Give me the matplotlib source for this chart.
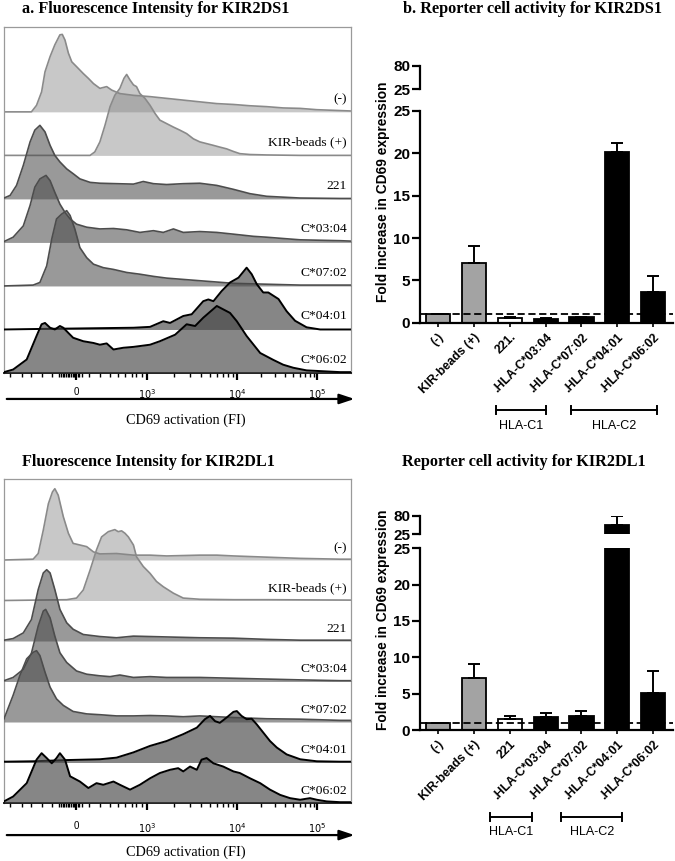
import numpy as np
import matplotlib
matplotlib.use("Agg")
import matplotlib.pyplot as plt
from matplotlib import transforms

plt.rcParams['font.family'] = ['Liberation Sans', 'DejaVu Sans']
SERIF = ['Liberation Serif', 'DejaVu Serif']

# ---- histogram data: x = display channel (0-1024), h = height in row units ----
row_labels = ["(-)", "KIR-beads (+)", "221", "C*03:04", "C*07:02", "C*04:01", "C*06:02"]

# KIR2DS1
ds1_neg_x = [0, 81, 96, 111, 121, 136, 150, 165, 172, 180, 190, 200, 214, 234, 249, 264, 283, 303, 318, 342,
             382, 431, 480, 529, 578, 628, 677, 726, 775, 824, 874, 923, 992, 1024]
ds1_neg_h = [0, 0, 0.15, 0.46, 0.92, 1.27, 1.54, 1.77, 1.78, 1.65, 1.35, 1.15, 1.04, 0.88, 0.77, 0.65, 0.54, 0.58, 0.5, 0.42,
             0.38, 0.35, 0.31, 0.27, 0.23, 0.19, 0.17, 0.14, 0.12, 0.09, 0.08, 0.05, 0.03, 0.02]
ds1_kir_x = [0, 254, 268, 283, 298, 313, 327, 342, 354, 362, 372, 382, 391, 401, 416, 431, 446, 460, 480, 500,
             519, 539, 559, 578, 598, 618, 637, 657, 677, 696, 726, 775, 874, 1024]
ds1_kir_h = [0, 0, 0.08, 0.31, 0.69, 1.12, 1.38, 1.54, 1.77, 1.86, 1.73, 1.62, 1.58, 1.42, 1.31, 1.15, 0.96, 0.81, 0.73, 0.65,
             0.58, 0.5, 0.38, 0.31, 0.27, 0.23, 0.19, 0.15, 0.09, 0.04, 0.02, 0.01, 0, 0]
ds1_221_x = [0, 18, 37, 57, 77, 91, 106, 121, 136, 150, 165, 185, 204, 224, 254, 283, 332, 382, 411, 441,
             480, 529, 578, 628, 677, 726, 775, 824, 874, 992, 1024]
ds1_221_h = [0.02, 0.08, 0.31, 0.77, 1.31, 1.58, 1.69, 1.54, 1.23, 1.0, 0.85, 0.69, 0.58, 0.46, 0.38, 0.36, 0.35, 0.34, 0.4, 0.35,
             0.33, 0.35, 0.36, 0.31, 0.22, 0.12, 0.06, 0.04, 0.02, 0.01, 0.01]
ds1_c0304_x = [0, 27, 57, 77, 91, 106, 124, 136, 150, 165, 180, 195, 214, 244, 283, 323, 362, 401, 441, 470,
               500, 529, 578, 628, 677, 736, 775, 824, 874, 992, 1024]
ds1_c0304_h = [0.02, 0.12, 0.38, 0.85, 1.27, 1.46, 1.54, 1.42, 1.15, 0.88, 0.69, 0.54, 0.42, 0.35, 0.31, 0.32, 0.29, 0.23, 0.27, 0.23,
               0.31, 0.23, 0.25, 0.23, 0.19, 0.14, 0.12, 0.09, 0.06, 0.04, 0.03]
ds1_c0702_x = [0, 86, 106, 126, 141, 155, 170, 185, 195, 209, 224, 244, 264, 293, 323, 362, 401, 441, 480, 529,
               578, 628, 677, 775, 874, 992, 1024]
ds1_c0702_h = [0, 0.02, 0.08, 0.46, 1.08, 1.54, 1.65, 1.73, 1.62, 1.31, 0.88, 0.65, 0.5, 0.42, 0.38, 0.31, 0.27, 0.22, 0.18, 0.15,
               0.12, 0.09, 0.06, 0.04, 0.02, 0.02, 0.02]
ds1_c0401_x = [0, 86, 185, 283, 382, 431, 470, 490, 529, 554, 588, 603, 618, 642, 667, 692, 716, 731, 746, 765,
               780, 810, 834, 859, 893, 933, 1024]
ds1_c0401_h = [0, 0.01, 0.02, 0.03, 0.04, 0.06, 0.19, 0.15, 0.31, 0.35, 0.65, 0.69, 0.65, 0.88, 1.08, 1.19, 1.42, 1.27, 1.04, 0.85,
               0.85, 0.7, 0.42, 0.2, 0.05, 0.0, 0]
ds1_c0602_x = [0, 27, 67, 96, 111, 121, 136, 150, 165, 175, 190, 204, 234, 264, 283, 303, 323, 352, 382, 431,
               460, 505, 539, 564, 588, 628, 667, 687, 716, 756, 795, 824, 854, 893, 992, 1024]
ds1_c0602_h = [0.02, 0.08, 0.31, 0.85, 1.12, 1.15, 1.04, 1.0, 1.08, 1.04, 0.92, 0.81, 0.73, 0.69, 0.65, 0.68, 0.54, 0.58, 0.6, 0.65,
               0.73, 0.88, 1.12, 1.08, 1.27, 1.54, 1.38, 1.19, 0.85, 0.46, 0.3, 0.19, 0.12, 0.06, 0.02, 0.02]

# KIR2DL1
dl1_neg_x = [0, 86, 101, 116, 131, 143, 150, 160, 175, 190, 204, 224, 244, 264, 283, 332, 382, 431, 480, 529,
             578, 628, 677, 775, 874, 992, 1024]
dl1_neg_h = [0, 0.02, 0.16, 0.74, 1.39, 1.68, 1.76, 1.6, 1.07, 0.66, 0.41, 0.37, 0.33, 0.2, 0.15, 0.16, 0.12, 0.12, 0.1, 0.11,
             0.12, 0.12, 0.1, 0.07, 0.04, 0.02, 0.02]
dl1_kir_x = [0, 185, 214, 234, 254, 273, 288, 308, 327, 337, 347, 357, 367, 382, 391, 411, 431, 450, 470, 500,
             529, 578, 677, 775, 1024]
dl1_kir_h = [0, 0.02, 0.06, 0.26, 0.75, 1.25, 1.57, 1.7, 1.75, 1.7, 1.72, 1.66, 1.57, 1.37, 1.08, 0.84, 0.67, 0.47, 0.34, 0.18,
             0.06, 0.03, 0.02, 0.02, 0.01]
dl1_221_x = [0, 27, 57, 81, 101, 116, 126, 136, 150, 165, 185, 204, 234, 283, 332, 382, 431, 480, 578, 677,
             775, 874, 992, 1024]
dl1_221_h = [0.02, 0.06, 0.2, 0.53, 1.27, 1.68, 1.76, 1.68, 1.27, 0.78, 0.45, 0.29, 0.16, 0.11, 0.08, 0.12, 0.11, 0.1, 0.08, 0.07,
             0.04, 0.02, 0.02, 0.02]
dl1_c0304_x = [0, 27, 57, 81, 101, 116, 123, 136, 150, 165, 185, 214, 244, 283, 313, 342, 382, 431, 480, 578,
               677, 775, 874, 992, 1024]
dl1_c0304_h = [0.02, 0.1, 0.3, 0.7, 1.37, 1.74, 1.78, 1.57, 1.12, 0.71, 0.47, 0.26, 0.18, 0.14, 0.12, 0.16, 0.1, 0.12, 0.1, 0.1,
               0.08, 0.06, 0.04, 0.02, 0.02]
dl1_c0702_x = [0, 8, 27, 47, 67, 86, 96, 106, 121, 136, 155, 175, 204, 244, 283, 332, 382, 431, 480, 529,
               578, 677, 775, 874, 992, 1024]
dl1_c0702_h = [0.08, 0.25, 0.66, 1.15, 1.56, 1.72, 1.76, 1.64, 1.23, 0.86, 0.57, 0.41, 0.26, 0.2, 0.18, 0.15, 0.15, 0.16, 0.15, 0.13,
               0.15, 0.11, 0.08, 0.07, 0.04, 0.04]
dl1_c0401_x = [0, 86, 185, 283, 332, 382, 431, 480, 529, 569, 593, 608, 623, 637, 657, 677, 687, 701, 716, 731,
               746, 765, 785, 805, 834, 874, 923, 992, 1024]
dl1_c0401_h = [0.02, 0.03, 0.06, 0.08, 0.12, 0.25, 0.41, 0.53, 0.7, 0.86, 1.07, 1.15, 1.02, 0.98, 1.11, 1.25, 1.27, 1.15, 1.07, 1.08,
               0.94, 0.74, 0.53, 0.37, 0.2, 0.08, 0.03, 0.02, 0.02]
dl1_c0602_x = [0, 27, 67, 96, 111, 126, 141, 155, 165, 180, 195, 224, 249, 273, 293, 323, 342, 372, 401, 431,
               460, 490, 514, 529, 549, 569, 583, 598, 618, 647, 677, 696, 726, 756, 785, 815, 844, 874, 903, 923,
               952, 992, 1024]
dl1_c0602_h = [0.04, 0.16, 0.49, 1.07, 1.23, 1.11, 0.98, 1.11, 1.23, 1.07, 0.66, 0.53, 0.37, 0.49, 0.45, 0.53, 0.45, 0.33, 0.45, 0.61,
               0.74, 0.82, 0.86, 0.78, 0.9, 0.82, 1.07, 1.11, 0.98, 0.9, 0.78, 0.74, 0.61, 0.49, 0.33, 0.2, 0.12, 0.08, 0.12, 0.08,
               0.04, 0.02, 0.02]

# axis ticks of the FI scale (display channels)
fi_major_pos = [212, 421, 687, 925]
fi_major_lab = ['0', r'$10^3$', r'$10^4$', r'$10^5$']
fi_minor_low = [18, 52, 81, 111, 141, 163, 168, 173, 178, 183, 188, 193, 198, 203, 208, 217, 222, 229,
                252, 283, 313, 337, 357, 377, 391, 406]

# ---- bar chart data ----
bar_labels_ds1 = ["(-)", "KIR-beads (+)", "221.", ".HLA-C*03:04", ".HLA-C*07:02", ".HLA-C*04:01", ".HLA-C*06:02"]
bar_labels_dl1 = ["(-)", "KIR-beads (+)", "221", ".HLA-C*03:04", ".HLA-C*07:02", ".HLA-C*04:01", ".HLA-C*06:02"]
ds1_fold = [1.0, 7.0, 0.5, 0.43, 0.63, 20.2, 3.66]
ds1_err = [0.0, 2.0, 0.12, 0.08, 0.07, 1.0, 1.84]
dl1_fold = [1.0, 7.1, 1.47, 1.74, 1.97, 52.5, 5.14]
dl1_err = [0.0, 1.95, 0.43, 0.66, 0.69, 26.5, 3.03]
bar_colors = ['#a3a3a3', '#a3a3a3', 'white', 'black', 'black', 'black', 'black']

# bracket spans in bar-position units
ds1_groups = [("HLA-C1", 1.62, 3.02), ("HLA-C2", 3.72, 6.1)]
dl1_groups = [("HLA-C1", 1.45, 2.63), ("HLA-C2", 3.44, 5.14)]

W, H = 675, 861
fig = plt.figure(figsize=(W / 100, H / 100), dpi=100)


def rect(left, top, right, bottom):
    return [left / W, 1 - bottom / H, (right - left) / W, (bottom - top) / H]


styles = [('#868686', 0.45, '#8a8a8a', 1.2), ('#868686', 0.45, '#8a8a8a', 1.2),
          ('#4a4a4a', 0.56, '#4d4d4d', 1.2), ('#4a4a4a', 0.56, '#4d4d4d', 1.2), ('#4a4a4a', 0.56, '#4d4d4d', 1.2),
          ('#474747', 0.66, 'black', 1.4), ('#474747', 0.66, 'black', 1.4)]


def hist_panel(r, curves, ytop, tick_pad, arrow_y, label_y):
    ax = fig.add_axes(r)
    n = len(curves)
    for i in range(n - 1, -1, -1):
        xs, hs = curves[i]
        base = n - 1 - i
        fc, a, ec, lw = styles[i]
        ys = np.array(hs) + base
        ax.fill_between(xs, base, ys, color=fc, alpha=a, linewidth=0, zorder=2 + i)
        ax.plot(xs, ys, color=ec, lw=lw, zorder=2.5 + i)
        ax.text(1012, base + 0.3, row_labels[i], ha='right', va='center', family=SERIF, fontsize=9.7, zorder=20)
    ax.set_xlim(0, 1024)
    ax.set_ylim(0, ytop)
    ax.set_yticks([])
    for s in ('left', 'top', 'right'):
        ax.spines[s].set_color('#9a9a9a')
        ax.spines[s].set_linewidth(0.9)
    ax.spines['bottom'].set_linewidth(1.3)
    minor = list(fi_minor_low)
    for lo, hi in ((421, 687), (687, 925)):
        minor += [lo + np.log10(m) * (hi - lo) for m in range(2, 10)]
    ax.set_xticks(fi_major_pos, fi_major_lab)
    ax.set_xticks(minor, minor=True)
    ax.tick_params(axis='x', which='major', length=5, width=1.6, pad=tick_pad, labelsize=7)
    ax.tick_params(axis='x', which='minor', length=3, width=1.0)
    ax.annotate('', xy=(1.018, arrow_y), xytext=(0, arrow_y), xycoords='axes fraction',
                arrowprops=dict(arrowstyle='-|>,head_length=0.9,head_width=0.3', color='black', lw=1.6),
                annotation_clip=False)
    ax.text(0.525, label_y, "CD69 activation (FI)", transform=ax.transAxes, ha='center', va='center',
            family=SERIF, fontsize=10.3)
    return ax


hist_panel(rect(4, 27, 351, 373),
           [(ds1_neg_x, ds1_neg_h), (ds1_kir_x, ds1_kir_h), (ds1_221_x, ds1_221_h), (ds1_c0304_x, ds1_c0304_h),
            (ds1_c0702_x, ds1_c0702_h), (ds1_c0401_x, ds1_c0401_h), (ds1_c0602_x, ds1_c0602_h)],
           7.95, 5, -0.075, -0.136)
hist_panel(rect(4, 479, 351, 803),
           [(dl1_neg_x, dl1_neg_h), (dl1_kir_x, dl1_kir_h), (dl1_221_x, dl1_221_h), (dl1_c0304_x, dl1_c0304_h),
            (dl1_c0702_x, dl1_c0702_h), (dl1_c0401_x, dl1_c0401_h), (dl1_c0602_x, dl1_c0602_h)],
           8.0, 8, -0.099, -0.151)


def bar_panel(lower, upper, labels, vals, errs, groups, bracket_y, group_y, ylab_y):
    axl = fig.add_axes(lower)
    axu = fig.add_axes(upper)
    x = np.arange(len(labels))
    for ax in (axl, axu):
        ax.bar(x, vals, width=0.67, color=bar_colors, edgecolor='black', linewidth=1.3, zorder=2)
        ax.errorbar(x, vals, yerr=[np.zeros(len(vals)), errs], fmt='none', ecolor='black',
                    elinewidth=1.4, capsize=4.5, capthick=1.4, zorder=3)
        ax.set_xlim(-0.5, 6.55)
        ax.spines['top'].set_visible(False)
        ax.spines['right'].set_visible(False)
        ax.spines['left'].set_linewidth(1.6)
        ax.tick_params(axis='y', length=6, width=1.6, labelsize=11, pad=1)
    axl.set_ylim(0, 25)
    axl.set_yticks([0, 5, 10, 15, 20, 25])
    axu.set_ylim(25, 80)
    axu.set_yticks([25, 80])
    for ax in (axl, axu):
        for t in ax.get_yticklabels():
            t.set_fontweight('bold')
    axu.spines['bottom'].set_visible(False)
    axu.set_xticks([])
    axl.spines['bottom'].set_linewidth(1.6)
    axl.set_xticks(x, labels, rotation=45, ha='right', rotation_mode='anchor', fontweight='bold', fontsize=8.8)
    axl.tick_params(axis='x', length=3, width=1.2, pad=3)
    axl.axhline(1, color='black', ls=(0, (4, 2)), lw=1.3, zorder=5)

    tr = transforms.blended_transform_factory(axl.transData, fig.transFigure)
    tick = 4 / H
    for name, a, b in groups:
        axl.plot([a, b], [bracket_y, bracket_y], transform=tr, color='black', lw=1.4, clip_on=False)
        for e in (a, b):
            axl.plot([e, e], [bracket_y - tick, bracket_y + tick], transform=tr, color='black', lw=1.4, clip_on=False)
        axl.text((a + b) / 2, group_y, name, transform=tr, ha='center', va='center', fontsize=9)
    fig.text(383 / W, ylab_y, "Fold increase in CD69 expression", rotation=90, ha='center', va='center',
             fontweight='bold', fontsize=9.9)


bar_panel(rect(420, 111, 673, 322.7), rect(420, 65.7, 673, 89.3), bar_labels_ds1, ds1_fold, ds1_err,
          ds1_groups, 1 - 410 / H, 1 - 426 / H, 1 - 192 / H)
bar_panel(rect(420, 548.3, 673, 730), rect(420, 515.7, 673, 534.3), bar_labels_dl1, dl1_fold, dl1_err,
          dl1_groups, 1 - 817 / H, 1 - 832 / H, 1 - 620 / H)

# titles
title_kw = dict(family=SERIF, fontweight='bold', fontsize=11.7, ha='left', va='center')
fig.text(22 / W, 1 - 9 / H, "a. Fluorescence Intensity for KIR2DS1", **title_kw)
fig.text(403 / W, 1 - 9 / H, "b. Reporter cell activity for KIR2DS1", **title_kw)
fig.text(22 / W, 1 - 462 / H, "Fluorescence Intensity for KIR2DL1", **title_kw)
fig.text(402 / W, 1 - 462 / H, "Reporter cell activity for KIR2DL1", **title_kw)

fig.savefig("out.png", dpi=100)
